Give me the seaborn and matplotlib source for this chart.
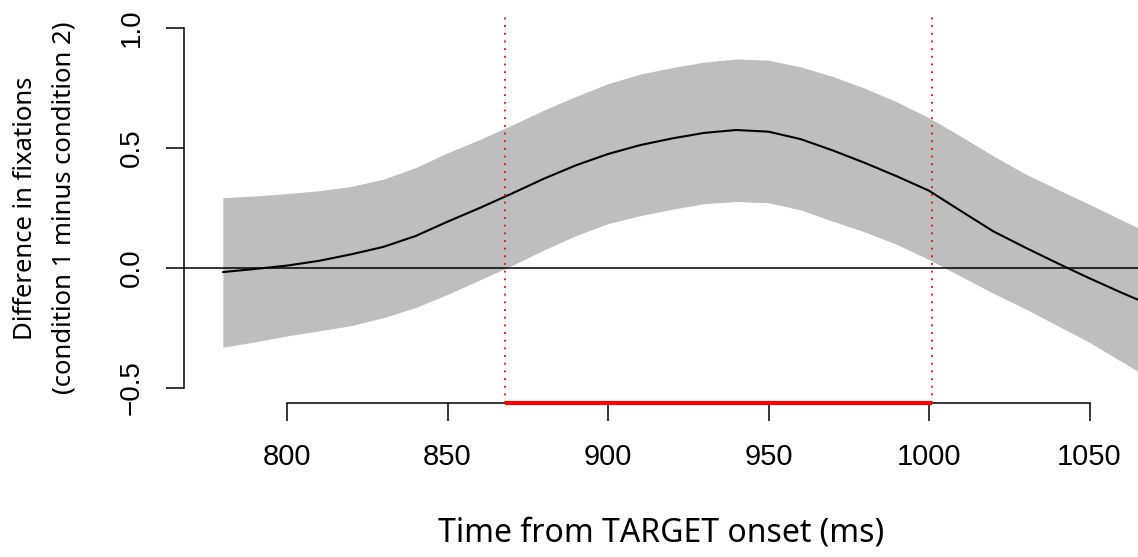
import numpy as np
import pandas as pd
import matplotlib
matplotlib.use("Agg")
import matplotlib.pyplot as plt
import seaborn as sns

# ---- data ----
time_ms = [780, 790, 800, 810, 820, 830, 840, 850, 860, 870, 880, 890, 900, 910, 920,
           930, 940, 950, 960, 970, 980, 990, 1000, 1010, 1020, 1030, 1040, 1050, 1060, 1070]
mean_diff = [-0.017, -0.004, 0.010, 0.030, 0.057, 0.088, 0.133, 0.193, 0.250, 0.310,
             0.372, 0.428, 0.475, 0.512, 0.540, 0.563, 0.575, 0.568, 0.537, 0.490,
             0.438, 0.382, 0.322, 0.237, 0.153, 0.085, 0.020, -0.043, -0.103, -0.160]
upper_ci = [0.293, 0.300, 0.310, 0.322, 0.340, 0.370, 0.418, 0.480, 0.535, 0.595,
            0.658, 0.715, 0.768, 0.808, 0.835, 0.858, 0.871, 0.866, 0.838, 0.798,
            0.749, 0.692, 0.626, 0.548, 0.467, 0.392, 0.328, 0.265, 0.200, 0.138]
lower_ci = [-0.330, -0.308, -0.283, -0.262, -0.240, -0.207, -0.165, -0.110, -0.050, 0.010,
            0.075, 0.135, 0.185, 0.218, 0.245, 0.268, 0.277, 0.272, 0.242, 0.195,
            0.150, 0.098, 0.035, -0.035, -0.105, -0.170, -0.240, -0.310, -0.390, -0.470]
sig_window = [868, 1001]
x_ticks = [800, 850, 900, 950, 1000, 1050]
y_ticks = [-0.5, 0.0, 0.5, 1.0]
y_tick_labels = ["\u22120.5", "0.0", "0.5", "1.0"]
x_label = "Time from TARGET onset (ms)"
y_label_1 = "Difference in fixations"
y_label_2 = "(condition 1 minus condition 2)"

df = pd.DataFrame({"time": time_ms, "mean": mean_diff, "upper": upper_ci, "lower": lower_ci})

sns.set_style("white")
plt.rcParams["font.family"] = ["Noto Sans", "DejaVu Sans"]
plt.rcParams["text.color"] = "black"
plt.rcParams["xtick.color"] = "black"
plt.rcParams["ytick.color"] = "black"
plt.rcParams["axes.labelcolor"] = "black"

W, H = 1138, 557
fig = plt.figure(figsize=(W / 100, H / 100), dpi=100)
ax_left, ax_right, ax_top, ax_bottom = 184, 1138, 13.6, 403
ax = fig.add_axes([ax_left / W, 1 - ax_bottom / H, (ax_right - ax_left) / W, (ax_bottom - ax_top) / H])

ax.set_xlim(767.9, 1065.1)
ax.set_ylim(-0.5625, 1.06)

ax.fill_between(df["time"], df["lower"], df["upper"], color="#BEBEBE", lw=0, zorder=1)
ax.axhline(0, color="black", lw=1.1, zorder=2)
sns.lineplot(data=df, x="time", y="mean", ax=ax, color="black", lw=1.5, zorder=3)
for xv in sig_window:
    ax.axvline(xv, color="red", lw=1.3, ls=(0, (1, 3.25)), zorder=4)

# axes styling, R-like
for s in ["top", "right"]:
    ax.spines[s].set_visible(False)
ax.spines["left"].set_bounds(y_ticks[0], y_ticks[-1])
ax.spines["bottom"].set_bounds(x_ticks[0], x_ticks[-1])
for s in ["left", "bottom"]:
    ax.spines[s].set_linewidth(1.1)
    ax.spines[s].set_color("black")

ax.plot(sig_window, [-0.5625, -0.5625], color="red", lw=3.0, clip_on=False, zorder=5,
        solid_capstyle="butt")

tick_font = ["Liberation Sans", "DejaVu Sans"]
ax.set_xticks(x_ticks)
ax.set_xticklabels([str(v) for v in x_ticks], fontsize=21, family=tick_font)
ax.set_yticks(y_ticks)
ax.set_yticklabels(y_tick_labels, fontsize=20, rotation=90, va="center", family=tick_font)
ax.tick_params(axis="both", direction="out", length=13, width=1.1, color="black", left=True, bottom=True)
ax.tick_params(axis="x", pad=16)
ax.tick_params(axis="y", pad=15)

ax.set_xlabel("")
ax.set_ylabel("")
fig.text(661 / W, 1 - 541 / H, x_label, fontsize=23, ha="center", va="baseline")
fig.text(26 / W, 1 - 208 / H, y_label_1, fontsize=18.5, rotation=90, ha="center", va="center")
fig.text(64 / W, 1 - 208 / H, y_label_2, fontsize=18.5, rotation=90, ha="center", va="center")

fig.savefig("out.png", dpi=100)
